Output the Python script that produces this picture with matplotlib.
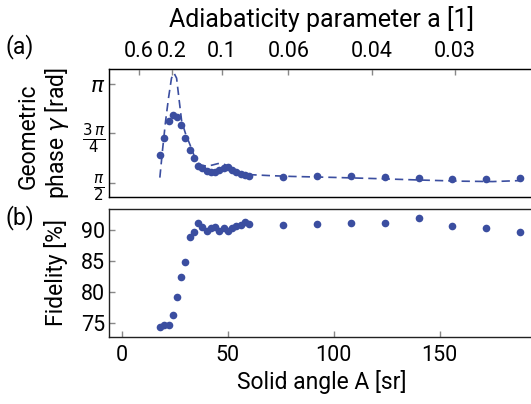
import numpy as np
import matplotlib
matplotlib.use("Agg")
import matplotlib.pyplot as plt

plt.rcParams['font.family'] = ['Roboto', 'DejaVu Sans']
plt.rcParams['mathtext.fontset'] = 'dejavusans'

# ---- data ----
solid_angle = [18, 20, 22, 24, 26, 28, 30, 32, 34, 36, 38, 40, 42, 44, 46, 48, 50,
               52, 54, 56, 58, 60, 76, 92, 108, 124, 140, 156, 172, 188]
phase_over_pi = [0.642, 0.726, 0.812, 0.843, 0.835, 0.791, 0.728, 0.665, 0.625, 0.584,
                 0.574, 0.562, 0.557, 0.557, 0.567, 0.578, 0.579, 0.564, 0.554, 0.547,
                 0.542, 0.534, 0.532, 0.537, 0.534, 0.529, 0.523, 0.520, 0.518, 0.525]
fidelity = [74.3, 74.7, 74.6, 76.2, 79.2, 82.4, 84.9, 88.9, 89.6, 91.2, 90.5, 89.9,
            90.4, 90.5, 89.8, 90.3, 89.8, 90.3, 90.6, 90.8, 91.3, 91.0, 90.8, 90.9,
            91.2, 91.1, 92.0, 90.7, 90.3, 89.7]

theory_angle = [17.9, 19.2, 20.6, 22.0, 23.4, 24.6, 25.8, 27.0, 28.2, 30.0, 32.1, 34.0,
                35.5, 37.5, 40, 42.5, 45.4, 48, 50.9, 54, 57, 60.4, 70, 80, 100, 120,
                140, 160, 175, 188]
theory_phase_over_pi = [0.527, 0.67, 0.812, 0.93, 1.03, 1.055, 1.03, 0.92, 0.812, 0.75,
                        0.694, 0.64, 0.605, 0.59, 0.585, 0.59, 0.598, 0.595, 0.584, 0.565,
                        0.55, 0.542, 0.537, 0.533, 0.528, 0.522, 0.515, 0.509, 0.507, 0.512]

a_ticks = [0.6, 0.2, 0.1, 0.06, 0.04, 0.03]
a_ticklabels = ['0.6', '0.2', '0.1', '0.06', '0.04', '0.03']
A_ticks = [0, 50, 100, 150]
fid_ticks = [75, 80, 85, 90]
phase_ticks = [0.5, 0.75, 1.0]
phase_ticklabels = [r'$\frac{\pi}{2}$', r'$\frac{3\,\pi}{4}$', r'$\pi$']

color = '#3b4ea0'
fs_tick = 15.5
fs_lab = 16.5
fs_title = 18

fig = plt.figure(figsize=(5.31, 4.04), dpi=100)
W, H = 531, 404
def rect(x0, y0, x1, y1):
    return [x0 / W, 1 - y1 / H, (x1 - x0) / W, (y1 - y0) / H]

ax1 = fig.add_axes(rect(109, 69, 534, 197))
ax2 = fig.add_axes(rect(109, 209, 534, 337))

xlim = (-6.1, 194.5)
for ax in (ax1, ax2):
    ax.set_xlim(*xlim)
    for s in ax.spines.values():
        s.set_linewidth(1.0)
        s.set_color('#222222')
    ax.tick_params(direction='in', length=4, width=1, color='#888888',
                   labelsize=fs_tick, pad=3)

# top panel
ax1.plot(np.array(theory_angle), np.array(theory_phase_over_pi) * np.pi,
         color=color, lw=1.2, dashes=(5, 3))
ax1.plot(np.array(solid_angle), np.array(phase_over_pi) * np.pi, 'o',
         color=color, ms=5.5, mec='none')
ax1.set_ylim(0.429 * np.pi, 1.076 * np.pi)
ax1.set_yticks(np.array(phase_ticks) * np.pi)
ax1.set_yticklabels(phase_ticklabels, fontsize=fs_tick)
ax1.set_xticks([])
ax1.tick_params(axis='x', bottom=False, labelbottom=False)

top = ax1.twiny()
top.set_xlim(*xlim)
top.set_xticks([1.5 * np.pi / a for a in a_ticks])
top.set_xticklabels(a_ticklabels, fontsize=fs_tick)
top.tick_params(direction='in', length=4, width=1, color='#888888', pad=5)
top.set_xlabel('Adiabaticity parameter a [1]', fontsize=fs_title, labelpad=10)

# bottom panel
ax2.plot(solid_angle, fidelity, 'o', color=color, ms=5.5, mec='none')
ax2.set_ylim(72.7, 93.4)
ax2.set_yticks(fid_ticks)
ax2.set_xticks(A_ticks)
ax2.tick_params(axis='x', pad=6)
ax2.set_xlabel('Solid angle A [sr]', fontsize=fs_lab, labelpad=3)

fig.text(28 / W, 1 - 136 / H, 'Geometric', rotation=90, ha='center', va='center', fontsize=fs_lab)
fig.text(57 / W, 1 - 133 / H, r'phase $\gamma$ [rad]', rotation=90, ha='center', va='center', fontsize=fs_lab)
fig.text(56 / W, 1 - 273 / H, 'Fidelity [%]', rotation=90, ha='center', va='center', fontsize=fs_lab)
fig.text(20 / W, 1 - 47 / H, '(a)', ha='center', va='center', fontsize=fs_lab)
fig.text(20 / W, 1 - 218 / H, '(b)', ha='center', va='center', fontsize=fs_lab)

fig.savefig('out.png', dpi=100)
